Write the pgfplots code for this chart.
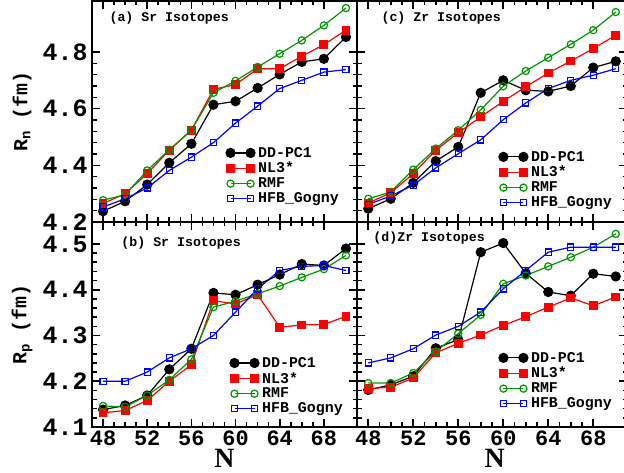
\documentclass[border=0pt]{standalone}
\usepackage{fontspec}
\setmainfont{Liberation Mono}
\newfontfamily\serifface{Liberation Serif}
\usepackage{pgfplots}
\pgfplotsset{compat=1.18}

\definecolor{rmfgreen}{RGB}{0,150,0}
\definecolor{hfbblue}{RGB}{0,0,255}

\pgfplotsset{
  panel/.style={
    scale only axis, width=265bp,
    xmin=47, xmax=71,
    xtick={48,52,...,68}, minor x tick num=3,
    tick align=inside,
    major tick length=8bp, minor tick length=4.5bp,
    tick style={black, line width=1.6bp},
    axis line style={line width=2bp},
    clip=false,
    /pgf/number format/assume math mode=true,
    /pgf/number format/fixed,
    yticklabel style={font=\fontsize{25}{25}\selectfont\bfseries, xshift=-1bp},
    xticklabel style={font=\fontsize{22}{22}\selectfont\bfseries},
    ylabel style={font=\fontsize{20}{20}\selectfont\bfseries, anchor=center},
    xlabel style={font=\fontsize{28}{28}\selectfont\serifface\bfseries, anchor=center, inner sep=0pt},
    legend cell align=left,
    legend style={draw=none, fill=none, anchor=north west, inner sep=0pt,
      font=\fontsize{15}{15}\selectfont\bfseries, row sep=1.5bp,
      nodes={inner sep=1bp},
      /tikz/every even column/.append style={column sep=0bp}},
    legend image code/.code={\draw[##1] plot coordinates {(0bp,0bp) (20bp,0bp)}; \path (26bp,0bp);},
  },
  toprow/.style={panel, height=221bp, ymin=4.2, ymax=4.98,
    ytick={4.2,4.4,4.6,4.8}, minor y tick num=4, xticklabels={}},
  botrow/.style={panel, height=205bp, ymin=4.1, ymax=4.548,
    ytick={4.1,4.2,4.3,4.4,4.5}, minor y tick num=4},
  ddpc/.style={black, line width=1.2bp, mark=*, mark size=4.5bp, mark options={solid}},
  nlthree/.style={red, line width=1.2bp, mark=square*, mark size=3.8bp, mark options={solid}},
  rmf/.style={rmfgreen, line width=1.2bp, mark=o, mark size=3.6bp, mark options={solid, line width=1.2bp}},
  hfb/.style={hfbblue, line width=1.2bp, mark=square, mark size=3.1bp, mark options={solid, line width=1.2bp}},
}

\newcommand{\paneltext}{\fontsize{13.3}{13.3}\selectfont\bfseries}

\begin{document}
\begin{tikzpicture}[x=1bp,y=1bp]

% (a) neutron radii, Sr
\begin{axis}[toprow, at={(92bp,251bp)}, anchor=south west,
  ylabel={R\textsubscript{n} (fm)},
  ylabel style={at={(axis description cs:-0.264,0.5)}},
  legend style={at={(axis description cs:0.505,0.344)}}]
\addplot[ddpc] coordinates {(48,4.238) (50,4.273) (52,4.332) (54,4.409) (56,4.476) (58,4.614) (60,4.626) (62,4.673) (64,4.721) (66,4.765) (68,4.776) (70,4.853)};
\addplot[nlthree] coordinates {(48,4.265) (50,4.300) (52,4.371) (54,4.453) (56,4.524) (58,4.668) (60,4.685) (62,4.741) (64,4.741) (66,4.785) (68,4.826) (70,4.877)};
\addplot[rmf] coordinates {(48,4.277) (50,4.296) (52,4.382) (54,4.455) (56,4.524) (58,4.656) (60,4.698) (62,4.747) (64,4.794) (66,4.841) (68,4.894) (70,4.955)};
\addplot[hfb] coordinates {(48,4.253) (50,4.282) (52,4.320) (54,4.382) (56,4.429) (58,4.480) (60,4.549) (62,4.609) (64,4.671) (66,4.700) (68,4.729) (70,4.738)};
\legend{DD-PC1,NL3*,RMF,HFB\_Gogny}
\node[anchor=west, font=\paneltext] at (axis description cs:0.053,0.923) {(a) Sr Isotopes};
\end{axis}

% (c) neutron radii, Zr
\begin{axis}[toprow, width=270bp, at={(357bp,251bp)}, anchor=south west,
  yticklabels={},
  legend style={at={(axis description cs:0.525,0.326)}}]
\addplot[ddpc] coordinates {(48,4.247) (50,4.282) (52,4.338) (54,4.415) (56,4.465) (58,4.656) (60,4.700) (62,4.665) (64,4.661) (66,4.680) (68,4.745) (70,4.767)};
\addplot[nlthree] coordinates {(48,4.267) (50,4.303) (52,4.371) (54,4.453) (56,4.515) (58,4.571) (60,4.626) (62,4.677) (64,4.726) (66,4.768) (68,4.812) (70,4.859)};
\addplot[rmf] coordinates {(48,4.282) (50,4.306) (52,4.385) (54,4.459) (56,4.524) (58,4.596) (60,4.679) (62,4.733) (64,4.780) (66,4.827) (68,4.877) (70,4.941)};
\addplot[hfb] coordinates {(48,4.262) (50,4.292) (52,4.330) (54,4.391) (56,4.441) (58,4.490) (60,4.561) (62,4.620) (64,4.671) (66,4.700) (68,4.718) (70,4.741)};
\legend{DD-PC1,NL3*,RMF,HFB\_Gogny}
\node[anchor=west, font=\paneltext] at (axis description cs:0.078,0.923) {(c) Zr Isotopes};
\end{axis}

% (b) proton radii, Sr
\begin{axis}[botrow, at={(92bp,46bp)}, anchor=south west,
  ylabel={R\textsubscript{p} (fm)},
  ylabel style={at={(axis description cs:-0.264,0.5)}},
  xlabel={N},
  xlabel style={at={(axis description cs:0.5,-0.155)}},
  legend style={at={(axis description cs:0.52,0.346)}}]
\addplot[ddpc] coordinates {(48,4.138) (50,4.147) (52,4.169) (54,4.226) (56,4.271) (58,4.393) (60,4.389) (62,4.411) (64,4.433) (66,4.456) (68,4.453) (70,4.490)};
\addplot[nlthree] coordinates {(48,4.131) (50,4.136) (52,4.158) (54,4.200) (56,4.236) (58,4.376) (60,4.369) (62,4.389) (64,4.318) (66,4.323) (68,4.324) (70,4.342)};
\addplot[rmf] coordinates {(48,4.146) (50,4.144) (52,4.169) (54,4.203) (56,4.248) (58,4.362) (60,4.375) (62,4.391) (64,4.408) (66,4.427) (68,4.445) (70,4.475)};
\addplot[hfb] coordinates {(48,4.200) (50,4.200) (52,4.220) (54,4.251) (56,4.271) (58,4.300) (60,4.351) (62,4.402) (64,4.442) (66,4.451) (68,4.453) (70,4.442)};
\legend{DD-PC1,NL3*,RMF,HFB\_Gogny}
\node[anchor=west, font=\paneltext] at (axis description cs:0.098,0.898) {(b) Sr Isotopes};
\end{axis}

% (d) proton radii, Zr
\begin{axis}[botrow, width=270bp, at={(357bp,46bp)}, anchor=south west,
  yticklabels={},
  xlabel={N},
  xlabel style={at={(axis description cs:0.51,-0.155)}},
  legend style={at={(axis description cs:0.525,0.371)}}]
\addplot[ddpc] coordinates {(48,4.181) (50,4.192) (52,4.211) (54,4.272) (56,4.291) (58,4.482) (60,4.502) (62,4.436) (64,4.395) (66,4.387) (68,4.435) (70,4.429)};
\addplot[nlthree] coordinates {(48,4.184) (50,4.187) (52,4.207) (54,4.262) (56,4.283) (58,4.301) (60,4.322) (62,4.341) (64,4.362) (66,4.382) (68,4.365) (70,4.384)};
\addplot[rmf] coordinates {(48,4.196) (50,4.196) (52,4.218) (54,4.265) (56,4.304) (58,4.345) (60,4.413) (62,4.431) (64,4.451) (66,4.471) (68,4.493) (70,4.522)};
\addplot[hfb] coordinates {(48,4.240) (50,4.251) (52,4.271) (54,4.301) (56,4.320) (58,4.351) (60,4.402) (62,4.442) (64,4.482) (66,4.493) (68,4.493) (70,4.493)};
\legend{DD-PC1,NL3*,RMF,HFB\_Gogny}
\node[anchor=west, font=\paneltext] at (axis description cs:0.048,0.922) {(d)Zr Isotopes};
\end{axis}

\pgfresetboundingbox
\path[use as bounding box] (0bp,0bp) rectangle (624bp,473bp);
\end{tikzpicture}
\end{document}
